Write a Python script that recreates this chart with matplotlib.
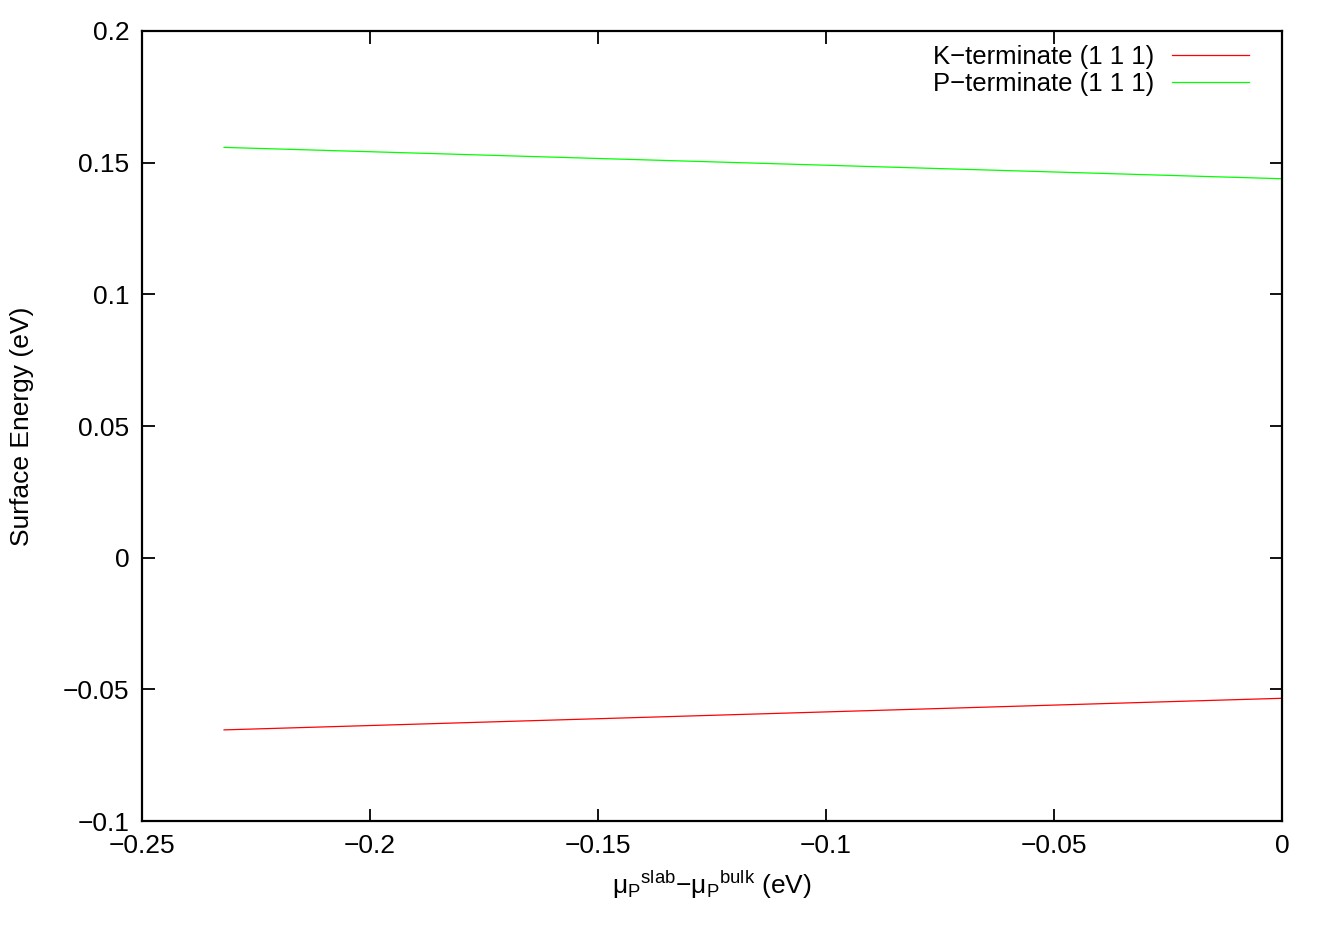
import matplotlib
matplotlib.use("Agg")
import matplotlib.pyplot as plt
from matplotlib.ticker import FuncFormatter, MultipleLocator

plt.rcParams['font.family'] = ['Liberation Sans', 'DejaVu Sans']
plt.rcParams['mathtext.fontset'] = 'custom'
plt.rcParams['mathtext.rm'] = 'Liberation Sans'
plt.rcParams['mathtext.it'] = 'Liberation Sans:italic'

# data (two end points per line)
mu_x = [-0.232, 0.0]
k_term = [-0.0654, -0.0534]
p_term = [0.1558, 0.1439]
labels = ['K\u2212terminate (1 1 1)', 'P\u2212terminate (1 1 1)']

W, H = 1329, 930
fig = plt.figure(figsize=(W / 100, H / 100), dpi=100)
ax = fig.add_axes([142 / W, (H - 821) / H, (1282 - 142) / W, (821 - 31) / H])

ax.plot(mu_x, k_term, color='#ff0000', lw=0.9, label=labels[0])
ax.plot(mu_x, p_term, color='#00ff00', lw=0.9, label=labels[1])

ax.set_xlim(-0.25, 0)
ax.set_ylim(-0.1, 0.2)
ax.xaxis.set_major_locator(MultipleLocator(0.05))
ax.yaxis.set_major_locator(MultipleLocator(0.05))


def fmt(v, pos):
    s = '%g' % round(v, 6)
    if s == '-0':
        s = '0'
    return s.replace('-', '\u2212')


ax.xaxis.set_major_formatter(FuncFormatter(fmt))
ax.yaxis.set_major_formatter(FuncFormatter(fmt))

fs = 19
ax.tick_params(direction='in', length=9, width=1.3, top=True, right=True,
               labelsize=fs)
ax.tick_params(axis='y', pad=9)
ax.tick_params(axis='x', pad=9)
for sp in ax.spines.values():
    sp.set_linewidth(1.6)

ax.set_ylabel('Surface Energy (eV)', fontsize=fs, labelpad=21)
ax.set_xlabel(r'$\mathrm{\mu_P{}^{slab}}$' + '\u2212' + r'$\mathrm{\mu_P{}^{bulk}}$ (eV)',
              fontsize=fs, labelpad=8)

ax.legend(loc='upper right', frameon=False, markerfirst=False, fontsize=18.5,
          handlelength=3.0, handletextpad=0.7, labelspacing=0.1,
          borderaxespad=0.0, bbox_to_anchor=(0.98, 0.995))

fig.savefig('out.png', dpi=100)
